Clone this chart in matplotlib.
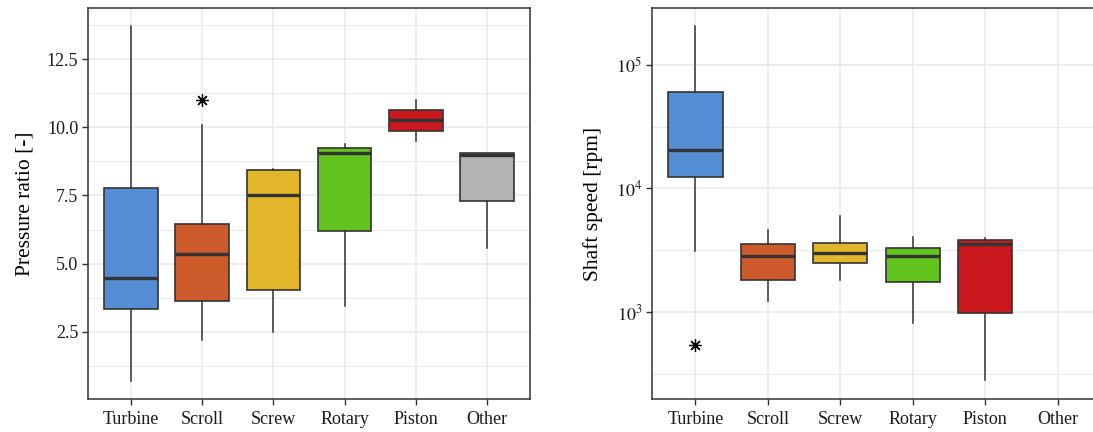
import numpy as np
import matplotlib
matplotlib.use("Agg")
import matplotlib.pyplot as plt
from matplotlib.ticker import FixedLocator, NullFormatter

plt.rcParams['font.family'] = ['Liberation Serif', 'DejaVu Serif']
plt.rcParams['mathtext.fontset'] = 'stix'

categories = ["Turbine", "Scroll", "Screw", "Rotary", "Piston", "Other"]
colors = ["#548DD4", "#CC5A2A", "#E2B62A", "#63C41F", "#C9191E", "#B3B3B3"]

# pressure ratio [-]: whislo, q1, med, q3, whishi, outliers
pr_whislo = [0.70, 2.21, 2.50, 3.46, 9.50, 5.59]
pr_q1 = [3.35, 3.64, 4.04, 6.21, 9.85, 7.28]
pr_med = [4.49, 5.37, 7.50, 9.04, 10.25, 9.00]
pr_q3 = [7.76, 6.47, 8.42, 9.23, 10.65, 9.04]
pr_whishi = [13.71, 10.07, 8.46, 9.38, 11.00, 9.04]
pr_out = [[], [10.99], [], [], [], []]

# shaft speed [rpm] (no data for "Other")
ss_whislo = [3090, 1228, 1815, 815, 280]
ss_q1 = [12270, 1815, 2490, 1750, 980]
ss_med = [20300, 2840, 3000, 2840, 3540]
ss_q3 = [60400, 3540, 3620, 3300, 3830]
ss_whishi = [207000, 4610, 6000, 4050, 3970]
ss_out = [[541], [], [], [], []]

border = "#333333"
grid_col = "#EBEBEB"


def make_stats(lo, q1, med, q3, hi, out):
    return [dict(whislo=a, q1=b, med=c, q3=d, whishi=e, fliers=f)
            for a, b, c, d, e, f in zip(lo, q1, med, q3, hi, out)]


def draw_boxes(ax, stats):
    pos = np.arange(1, len(stats) + 1)
    bp = ax.bxp(stats, positions=pos, widths=0.75, patch_artist=True,
                showcaps=False, zorder=3,
                boxprops=dict(edgecolor=border, linewidth=1.2),
                medianprops=dict(color=border, linewidth=2.4),
                whiskerprops=dict(color=border, linewidth=1.1),
                flierprops=dict(marker=(8, 2, 0), markersize=9,
                                markeredgecolor="black", markeredgewidth=0.9,
                                linestyle="none"))
    for patch, c in zip(bp["boxes"], colors):
        patch.set_facecolor(c)


def style_axes(ax):
    ax.set_facecolor("white")
    for s in ax.spines.values():
        s.set_color(border)
        s.set_linewidth(1.1)
    ax.grid(True, which="major", color=grid_col, linewidth=1.2, zorder=0)
    ax.grid(True, which="minor", axis="y", color=grid_col, linewidth=0.7, zorder=0)
    ax.set_axisbelow(True)
    ax.tick_params(which="major", direction="out", length=4, width=1,
                   color=border, labelsize=13, labelcolor="#1a1a1a", pad=3)
    ax.tick_params(axis="x", pad=5)
    ax.tick_params(which="minor", length=0)
    ax.set_xticks(np.arange(1, len(categories) + 1))
    ax.set_xticklabels(categories)
    ax.set_xlim(0.4, 6.6)


fig = plt.figure(figsize=(10.93, 4.32), dpi=100)

ax1 = fig.add_axes([88 / 1093, 33 / 432, 442 / 1093, 391 / 432])
draw_boxes(ax1, make_stats(pr_whislo, pr_q1, pr_med, pr_q3, pr_whishi, pr_out))
style_axes(ax1)
ax1.set_ylim(0.04, 14.37)
ax1.set_yticks([2.5, 5.0, 7.5, 10.0, 12.5])
ax1.set_yticklabels(["2.5", "5.0", "7.5", "10.0", "12.5"])
ax1.yaxis.set_minor_locator(FixedLocator([1.25, 3.75, 6.25, 8.75, 11.25, 13.75]))
ax1.set_ylabel("Pressure ratio [-]", fontsize=15.5, labelpad=9)

ax2 = fig.add_axes([652 / 1093, 33 / 432, 449 / 1093, 391 / 432])
draw_boxes(ax2, make_stats(ss_whislo, ss_q1, ss_med, ss_q3, ss_whishi, ss_out))
style_axes(ax2)
ax2.set_yscale("log")
ax2.set_ylim(10 ** 2.296, 10 ** 5.46)
ax2.set_yticks([1e3, 1e4, 1e5])
ax2.set_yticklabels([r"$10^3$", r"$10^4$", r"$10^5$"])
ax2.yaxis.set_minor_locator(FixedLocator([10 ** 2.5, 10 ** 3.5, 10 ** 4.5]))
ax2.yaxis.set_minor_formatter(NullFormatter())
ax2.set_ylabel("Shaft speed [rpm]", fontsize=15.5, labelpad=9)
ax2.spines["right"].set_visible(False)

fig.savefig("out.png", dpi=100)
